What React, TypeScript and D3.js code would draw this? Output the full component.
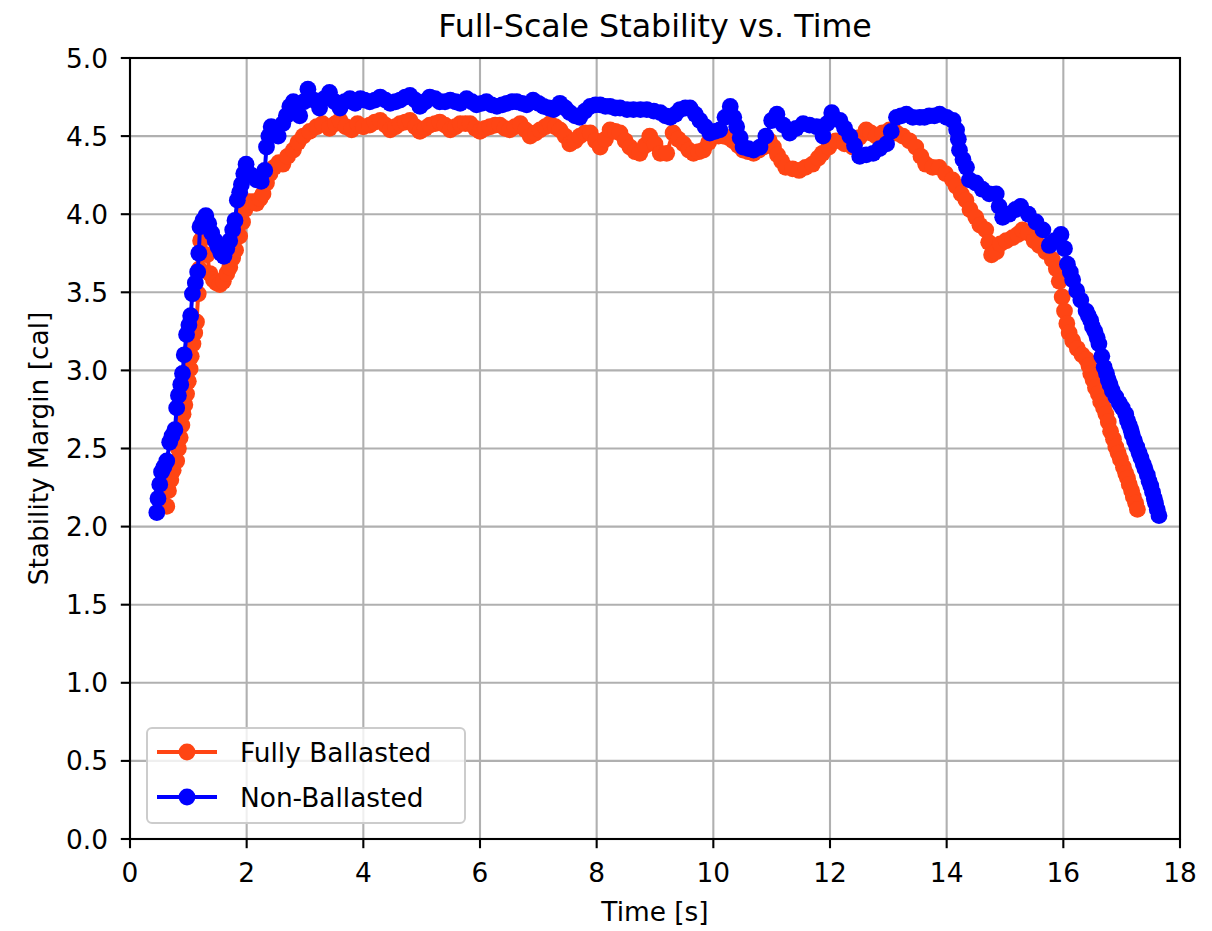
import React from "react";
import * as d3 from "d3";

// Stability margin [cal] over time [s] for the two ballast configurations
const fullyTime = [
  0.63, 0.66, 0.70, 0.74, 0.80, 0.83, 0.86, 0.89, 0.91, 0.94, 0.97, 1.00, 1.03, 1.05, 1.08, 1.11,
  1.14, 1.17, 1.19, 1.21, 1.26, 1.32, 1.37, 1.43, 1.48, 1.54, 1.60, 1.66, 1.71, 1.76, 1.81, 1.88,
  1.93, 1.97, 2.03, 2.10, 2.17, 2.23, 2.28, 2.34, 2.40, 2.47, 2.55, 2.62, 2.70, 2.80, 2.88, 2.97,
  3.08, 3.20, 3.30, 3.42, 3.52, 3.60, 3.70, 3.80, 3.90, 4.00, 4.11, 4.20, 4.29, 4.38, 4.46, 4.55,
  4.63, 4.72, 4.80, 4.89, 4.97, 5.06, 5.14, 5.23, 5.31, 5.40, 5.49, 5.58, 5.66, 5.75, 5.83, 5.92,
  6.00, 6.09, 6.17, 6.26, 6.34, 6.43, 6.51, 6.60, 6.69, 6.78, 6.86, 6.95, 7.03, 7.12, 7.20, 7.29,
  7.37, 7.46, 7.54, 7.63, 7.71, 7.80, 7.89, 7.98, 8.06, 8.15, 8.23, 8.32, 8.40, 8.49, 8.57, 8.66,
  8.74, 8.83, 8.91, 9.00, 9.09, 9.20, 9.31, 9.40, 9.49, 9.58, 9.66, 9.75, 9.83, 9.92, 10.00, 10.09,
  10.17, 10.26, 10.34, 10.43, 10.51, 10.60, 10.69, 10.78, 10.86, 10.96, 11.03, 11.10, 11.17, 11.24,
  11.36, 11.47, 11.58, 11.70, 11.80, 11.87, 11.98, 12.10, 12.25, 12.39, 12.50, 12.62, 12.70, 12.79,
  12.90, 13.02, 13.14, 13.25, 13.36, 13.47, 13.56, 13.64, 13.76, 13.87, 13.98, 14.10, 14.16, 14.25,
  14.33, 14.40, 14.50, 14.57, 14.67, 14.72, 14.77, 14.85, 14.92, 15.02, 15.13, 15.22, 15.30, 15.40,
  15.50, 15.59, 15.70, 15.81, 15.88, 15.93, 15.98, 16.02, 16.06, 16.10, 16.16, 16.24, 16.32, 16.40,
  16.44, 16.47, 16.51, 16.55, 16.60, 16.64, 16.69, 16.73, 16.77, 16.81, 16.86, 16.90, 16.94, 16.98,
  17.03, 17.07, 17.10, 17.13, 17.17, 17.20, 17.24, 17.27,
];
const fullyMargin = [
  2.13, 2.23, 2.30, 2.36, 2.42, 2.50, 2.57, 2.65, 2.72, 2.78, 2.85, 2.93, 3.01, 3.09, 3.17, 3.24,
  3.31, 3.49, 3.65, 3.83, 3.87, 3.74, 3.62, 3.58, 3.56, 3.55, 3.57, 3.62, 3.66, 3.72, 3.77, 3.86,
  3.95, 4.03, 4.08, 4.08, 4.07, 4.10, 4.13, 4.20, 4.26, 4.30, 4.33, 4.32, 4.37, 4.41, 4.46, 4.50,
  4.53, 4.56, 4.58, 4.55, 4.58, 4.60, 4.56, 4.54, 4.58, 4.56, 4.57, 4.59, 4.60, 4.57, 4.54, 4.56,
  4.58, 4.59, 4.60, 4.56, 4.53, 4.55, 4.57, 4.58, 4.59, 4.57, 4.54, 4.56, 4.58, 4.58, 4.58, 4.55,
  4.53, 4.55, 4.56, 4.57, 4.57, 4.55, 4.54, 4.56, 4.58, 4.54, 4.50, 4.52, 4.54, 4.56, 4.58, 4.56,
  4.54, 4.50, 4.45, 4.47, 4.50, 4.52, 4.52, 4.47, 4.43, 4.48, 4.54, 4.53, 4.52, 4.47, 4.43, 4.40,
  4.39, 4.44, 4.50, 4.45, 4.39, 4.39, 4.52, 4.48, 4.45, 4.41, 4.39, 4.40, 4.41, 4.46, 4.50, 4.50,
  4.50, 4.49, 4.47, 4.44, 4.41, 4.40, 4.39, 4.41, 4.43, 4.47, 4.43, 4.38, 4.34, 4.30,
  4.29, 4.28, 4.30, 4.32, 4.36, 4.39, 4.43, 4.47, 4.45, 4.43, 4.49, 4.54, 4.52, 4.50,
  4.52, 4.54, 4.52, 4.50, 4.47, 4.43, 4.37, 4.32, 4.30, 4.30, 4.26, 4.22, 4.18, 4.13,
  4.09, 4.03, 3.98, 3.93, 3.90, 3.82, 3.74, 3.76, 3.81, 3.83, 3.85, 3.87, 3.90, 3.88,
  3.83, 3.80, 3.76, 3.71, 3.65, 3.57, 3.47, 3.38, 3.30, 3.24, 3.19, 3.14, 3.10, 3.07,
  3.03, 2.98, 2.94, 2.89, 2.85, 2.80, 2.76, 2.72, 2.67, 2.61, 2.56, 2.51, 2.47, 2.43,
  2.38, 2.34, 2.31, 2.27, 2.23, 2.19, 2.15, 2.11,
];

const nonTime = [
  0.46, 0.48, 0.51, 0.54, 0.58, 0.63, 0.68, 0.72, 0.77, 0.80, 0.83, 0.87, 0.90, 0.93, 0.97, 1.01,
  1.04, 1.07, 1.12, 1.16, 1.18, 1.20, 1.25, 1.30, 1.35, 1.40, 1.46, 1.51, 1.56, 1.61, 1.66, 1.71,
  1.76, 1.80, 1.84, 1.88, 1.91, 1.95, 1.99, 2.08, 2.17, 2.25, 2.31, 2.34, 2.38, 2.42, 2.48, 2.54,
  2.62, 2.68, 2.74, 2.80, 2.86, 2.91, 2.98, 3.05, 3.15, 3.25, 3.33, 3.42, 3.51, 3.60, 3.68, 3.77,
  3.86, 3.95, 4.02, 4.11, 4.20, 4.29, 4.38, 4.46, 4.55, 4.63, 4.72, 4.80, 4.89, 4.97, 5.06, 5.14,
  5.23, 5.31, 5.40, 5.49, 5.58, 5.66, 5.77, 5.86, 5.94, 6.03, 6.11, 6.20, 6.29, 6.38, 6.46, 6.55,
  6.63, 6.72, 6.80, 6.91, 7.00, 7.09, 7.18, 7.26, 7.37, 7.46, 7.54, 7.63, 7.71, 7.80, 7.89, 7.98,
  8.06, 8.15, 8.23, 8.32, 8.40, 8.52, 8.63, 8.75, 8.86, 8.98, 9.09, 9.18, 9.26, 9.35, 9.43, 9.52,
  9.60, 9.69, 9.77, 9.86, 9.94, 10.03, 10.11, 10.20, 10.29, 10.35, 10.40, 10.46, 10.51, 10.60,
  10.69, 10.80, 10.90, 11.00, 11.09, 11.20, 11.31, 11.42, 11.54, 11.65, 11.77, 11.88, 11.95, 12.03,
  12.17, 12.25, 12.34, 12.42, 12.51, 12.62, 12.74, 12.85, 12.97, 13.05, 13.14, 13.22, 13.31, 13.42,
  13.54, 13.62, 13.70, 13.79, 13.88, 14.00, 14.11, 14.17, 14.20, 14.22, 14.28, 14.34, 14.39, 14.50,
  14.61, 14.73, 14.85, 14.90, 14.96, 15.07, 15.18, 15.27, 15.40, 15.53, 15.65, 15.76, 15.85, 15.96,
  16.02, 16.07, 16.12, 16.16, 16.23, 16.30, 16.39, 16.43, 16.47, 16.50, 16.54, 16.58, 16.61, 16.66,
  16.70, 16.74, 16.77, 16.80, 16.84, 16.90, 16.96, 17.01, 17.07, 17.10, 17.13, 17.16, 17.18, 17.22,
  17.26, 17.30, 17.33, 17.37, 17.40, 17.44, 17.47, 17.50, 17.53, 17.56, 17.58, 17.61, 17.64,
];
const nonMargin = [
  2.09, 2.18, 2.27, 2.35, 2.38, 2.42, 2.54, 2.58, 2.62, 2.76, 2.84, 2.91, 2.98, 3.10, 3.23, 3.29,
  3.35, 3.49, 3.56, 3.63, 3.75, 3.92, 3.96, 3.99, 3.94, 3.88, 3.83, 3.79, 3.75, 3.73, 3.78, 3.83,
  3.90, 3.96, 4.09, 4.14, 4.19, 4.26, 4.32, 4.25, 4.22, 4.21, 4.28, 4.43, 4.50, 4.56, 4.52, 4.50,
  4.58, 4.63, 4.69, 4.72, 4.68, 4.63, 4.72, 4.80, 4.73, 4.68, 4.74, 4.78, 4.72, 4.68, 4.72, 4.74,
  4.71, 4.74, 4.73, 4.72, 4.73, 4.75, 4.73, 4.71, 4.72, 4.73, 4.75, 4.76, 4.73, 4.69, 4.72, 4.75,
  4.74, 4.72, 4.72, 4.73, 4.72, 4.71, 4.74, 4.72, 4.70, 4.71, 4.72, 4.70, 4.69, 4.70, 4.71, 4.72,
  4.72, 4.71, 4.70, 4.73, 4.71, 4.69, 4.68, 4.67, 4.71, 4.68, 4.65, 4.63, 4.62, 4.66, 4.69, 4.70,
  4.70, 4.69, 4.69, 4.68, 4.68, 4.67, 4.67, 4.67, 4.67, 4.66, 4.65, 4.63, 4.62, 4.64, 4.67, 4.68,
  4.68, 4.64, 4.60, 4.56, 4.52, 4.53, 4.54, 4.62, 4.69, 4.62, 4.56, 4.49, 4.43, 4.42,
  4.41, 4.43, 4.50, 4.60, 4.64, 4.57, 4.52, 4.55, 4.58, 4.57, 4.56, 4.50, 4.58, 4.65,
  4.60, 4.55, 4.50, 4.44, 4.37, 4.38, 4.39, 4.42, 4.45, 4.53, 4.62, 4.63, 4.64, 4.62,
  4.62, 4.62, 4.63, 4.63, 4.64, 4.62, 4.60, 4.54, 4.48, 4.41, 4.35, 4.30, 4.22, 4.20,
  4.16, 4.13, 4.13, 4.05, 3.98, 4.00, 4.03, 4.05, 4.00, 3.95, 3.90, 3.80, 3.83, 3.87,
  3.78, 3.68, 3.63, 3.58, 3.51, 3.45, 3.38, 3.35, 3.32, 3.28, 3.25, 3.21, 3.17, 3.09,
  3.02, 2.98, 2.94, 2.91, 2.87, 2.83, 2.79, 2.76, 2.72, 2.68, 2.65, 2.62, 2.59, 2.55,
  2.51, 2.47, 2.44, 2.40, 2.37, 2.33, 2.29, 2.26, 2.22, 2.18, 2.15, 2.11, 2.07,
];

const xTicks = [0, 2, 4, 6, 8, 10, 12, 14, 16, 18];
const yTicks = [0, 0.5, 1, 1.5, 2, 2.5, 3, 3.5, 4, 4.5, 5];

const seriesNames = ["Fully Ballasted", "Non-Ballasted"];
const seriesColors = ["#ff4514", "#0000ff"];

const FONT = "'DejaVu Sans', sans-serif";

export default function App() {
  const width = 1212;
  const height = 931;
  const left = 130;
  const right = 1180;
  const top = 58;
  const bottom = 839;

  const x = d3.scaleLinear().domain([0, 18]).range([left, right]);
  const y = d3.scaleLinear().domain([0, 5]).range([bottom, top]);

  const series = [
    fullyTime.map((t, i) => [t, fullyMargin[i]] as [number, number]),
    nonTime.map((t, i) => [t, nonMargin[i]] as [number, number]),
  ];

  const line = d3
    .line<[number, number]>()
    .x((d) => x(d[0]))
    .y((d) => y(d[1]));

  const markerR = 8.4;
  const lineW = 4;

  return (
    <svg
      width={width}
      height={height}
      style={{ position: "absolute", left: 0, top: 0, background: "#fff" }}
      fontFamily={FONT}
    >
      <rect x={0} y={0} width={width} height={height} fill="#fff" />

      {/* grid */}
      {xTicks.map((t) => (
        <line key={"gx" + t} x1={x(t)} x2={x(t)} y1={top} y2={bottom} stroke="#b0b0b0" strokeWidth={2.1} />
      ))}
      {yTicks.map((t) => (
        <line key={"gy" + t} x1={left} x2={right} y1={y(t)} y2={y(t)} stroke="#b0b0b0" strokeWidth={2.1} />
      ))}

      {/* series */}
      <defs>
        <clipPath id="plotClip">
          <rect x={left} y={top} width={right - left} height={bottom - top} />
        </clipPath>
      </defs>
      <g clipPath="url(#plotClip)">
        {series.map((pts, si) => (
          <g key={"s" + si}>
            <path d={line(pts) ?? ""} fill="none" stroke={seriesColors[si]} strokeWidth={lineW} strokeLinejoin="round" />
            {pts.map((p, i) => (
              <circle key={i} cx={x(p[0])} cy={y(p[1])} r={markerR} fill={seriesColors[si]} />
            ))}
          </g>
        ))}
      </g>

      {/* axes frame */}
      <rect x={left} y={top} width={right - left} height={bottom - top} fill="none" stroke="#000" strokeWidth={2.1} />

      {/* x ticks */}
      {xTicks.map((t) => (
        <g key={"xt" + t}>
          <line x1={x(t)} x2={x(t)} y1={bottom} y2={bottom + 9.2} stroke="#000" strokeWidth={2.1} />
          <text x={x(t)} y={882} fontSize={26.4} textAnchor="middle" fill="#000">
            {t}
          </text>
        </g>
      ))}

      {/* y ticks */}
      {yTicks.map((t) => (
        <g key={"yt" + t}>
          <line x1={left - 9.2} x2={left} y1={y(t)} y2={y(t)} stroke="#000" strokeWidth={2.1} />
          <text x={108} y={y(t) + 9.5} fontSize={26.4} textAnchor="end" fill="#000">
            {t.toFixed(1)}
          </text>
        </g>
      ))}

      {/* labels */}
      <text x={(left + right) / 2} y={37} fontSize={31.7} textAnchor="middle" fill="#000">
        Full-Scale Stability vs. Time
      </text>
      <text x={(left + right) / 2} y={921} fontSize={26.4} textAnchor="middle" fill="#000">
        Time [s]
      </text>
      <text
        transform={`translate(48, ${(top + bottom) / 2}) rotate(-90)`}
        fontSize={26.4}
        textAnchor="middle"
        fill="#000"
      >
        Stability Margin [cal]
      </text>

      {/* legend */}
      <g>
        <rect x={147} y={728} width={318} height={95} rx={5} fill="#fff" fillOpacity={0.8} stroke="#cccccc" strokeWidth={2} />
        {seriesNames.map((name, i) => {
          const ly = 752 + i * 45;
          return (
            <g key={"lg" + i}>
              <line x1={157} x2={217} y1={ly} y2={ly} stroke={seriesColors[i]} strokeWidth={lineW} />
              <circle cx={187} cy={ly} r={markerR} fill={seriesColors[i]} />
              <text x={240} y={ly + 9.5} fontSize={26.4} fill="#000">
                {name}
              </text>
            </g>
          );
        })}
      </g>
    </svg>
  );
}
